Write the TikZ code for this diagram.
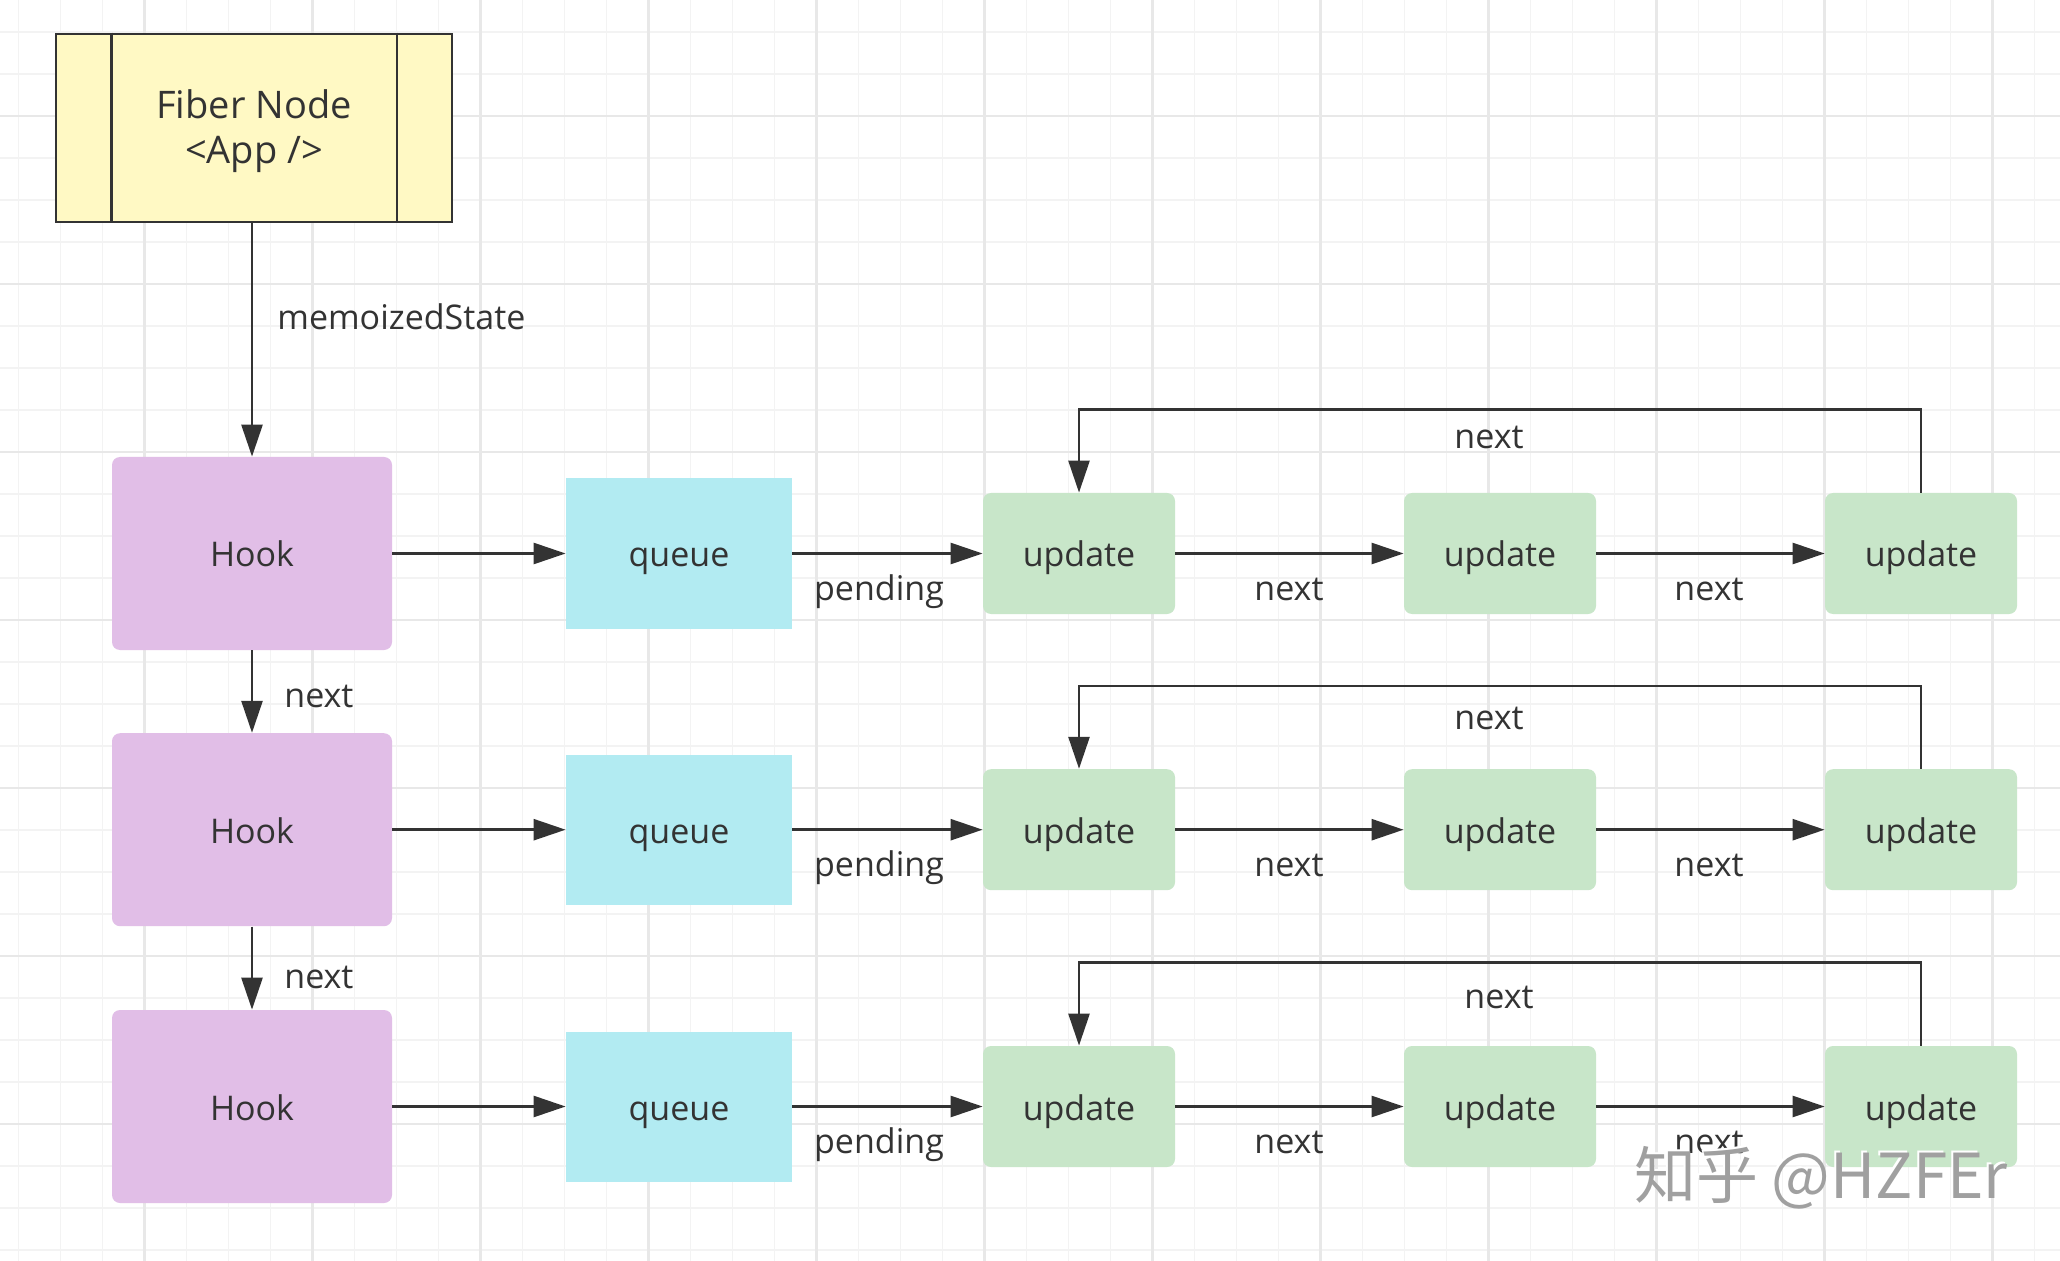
\documentclass[tikz,border=0pt]{standalone}
\usepackage{fontspec}
\setmainfont{Open Sans}
\newfontfamily\cjkfont{Noto Sans CJK SC}
\usetikzlibrary{arrows.meta}
\definecolor{ink}{HTML}{333333}
\definecolor{fiberfill}{HTML}{FFF9C4}
\definecolor{hookfill}{HTML}{E1BEE7}
\definecolor{queuefill}{HTML}{B2EBF2}
\definecolor{updfill}{HTML}{C8E6C9}
\definecolor{gridminor}{HTML}{F3F3F3}
\definecolor{gridmajor}{HTML}{E8E8E8}
\definecolor{wmgray}{HTML}{A0A0A0}
\begin{document}
\begin{tikzpicture}[x=0.5pt,y=-0.5pt,
  font=\fontsize{17}{22.5}\selectfont, text=ink,
  box/.style={inner sep=0pt, align=center, text=ink, text height=16pt, text depth=2.5pt},
  fiberbox/.style={draw=ink, line width=1.3pt, fill=fiberfill, inner sep=0pt, minimum width=198pt, minimum height=94pt},
  hookbox/.style={box, fill=hookfill, rounded corners=4pt, minimum width=140pt, minimum height=96.5pt},
  queuebox/.style={box, fill=queuefill, minimum width=113pt, minimum height=75pt},
  updbox/.style={box, fill=updfill, rounded corners=4pt, minimum width=96pt, minimum height=60.5pt},
  arr/.style={draw=ink, line width=1.3pt, -{Triangle[length=16pt,width=10.5pt]}},
  lbl/.style={inner sep=0pt, text=ink, anchor=base},
  minorline/.style={draw=gridminor, line width=0.9pt},
  majorline/.style={draw=gridmajor, line width=1.1pt}
]
% background and bounding box
\fill[white] (0,0) rectangle (2060,1261);
\path[use as bounding box] (0,0) rectangle (2060,1261);
% grid
\foreach \k in {0,...,48} {\pgfmathsetmacro\xx{18.5+42*\k}\path[minorline] (\xx,0) -- (\xx,1261);}
\foreach \k in {0,...,29} {\pgfmathsetmacro\yy{31.7+42*\k}\path[minorline] (0,\yy) -- (2060,\yy);}
\foreach \k in {0,...,11} {\pgfmathsetmacro\xx{144.5+168*\k}\path[majorline] (\xx,0) -- (\xx,1261);}
\foreach \k in {0,...,6} {\pgfmathsetmacro\yy{115.7+168*\k}\path[majorline] (0,\yy) -- (2060,\yy);}

% Fiber node
\node[fiberbox] (fiber) at (254,128) {};
\draw[ink, line width=1.3pt] ([xshift=28.25pt]fiber.north west) -- ([xshift=28.25pt]fiber.south west);
\draw[ink, line width=1.3pt] ([xshift=-28.25pt]fiber.north east) -- ([xshift=-28.25pt]fiber.south east);
\node[inner sep=0pt, align=center, text=ink, font=\fontsize{19}{22.5}\selectfont] (fibertext) at (254,131) {Fiber Node\\<App />};

% rows
\foreach \r/\yy in {1/553.5, 2/829.7, 3/1106.5} {
  \node[hookbox] (h\r) at (252,\yy) {Hook};
  \node[queuebox] (q\r) at (679,\yy) {queue};
  \node[updbox] (u\r a) at (1079,\yy) {update};
  \node[updbox] (u\r b) at (1500,\yy) {update};
  \node[updbox] (u\r c) at (1921,\yy) {update};
  \draw[arr] (h\r) -- (q\r);
  \draw[arr] (q\r) -- (u\r a);
  \draw[arr] (u\r a) -- (u\r b);
  \draw[arr] (u\r b) -- (u\r c);
  \draw[arr] (u\r c.north) -- ++(0,-83) -| (u\r a.north);
  \node[lbl] (pend\r) at (879,\yy+46.5) {pending};
  \node[lbl] (nxa\r) at (1289,\yy+46.5) {next};
  \node[lbl] (nxb\r) at (1709,\yy+46.5) {next};
}
\node[lbl] (loop1) at (1489,449) {next};
\node[lbl] (loop2) at (1489,729) {next};
\node[lbl] (loop3) at (1499,1008) {next};

% vertical links
\draw[arr] (fiber.south -| h1.north) -- (h1.north);
\node[lbl, anchor=base west] (memo) at (277,330) {memoizedState};
\draw[arr] (h1) -- (h2);
\draw[arr] (h2) -- (h3);
\node[lbl, anchor=base west] (hn1) at (284,707.5) {next};
\node[lbl, anchor=base west] (hn2) at (284,988) {next};

% watermark
\node[inner sep=0pt, text=white, font=\cjkfont\fontsize{31}{31}\selectfont] (wmshadow) at (1819,1176) {知乎 @HZFEr};
\node[inner sep=0pt, text=wmgray, font=\cjkfont\fontsize{31}{31}\selectfont] (wm) at (1821,1178) {知乎 @HZFEr};
\end{tikzpicture}
\end{document}
